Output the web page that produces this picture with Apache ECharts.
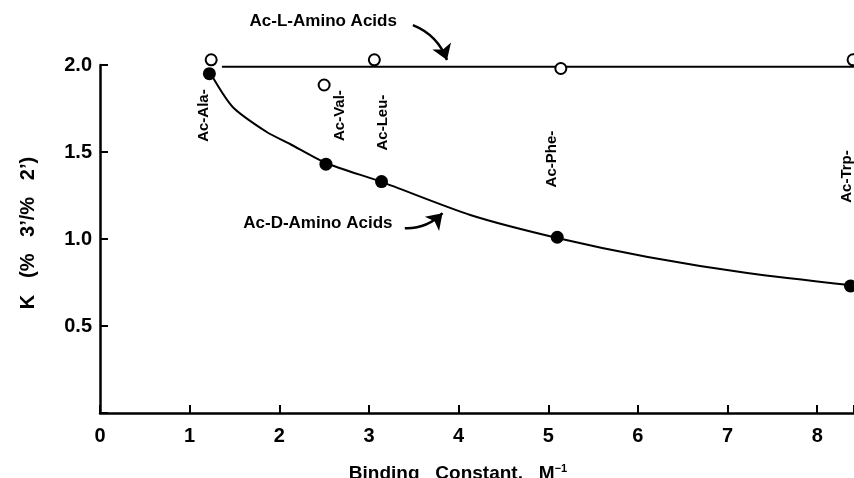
<!DOCTYPE html>
<html lang="en">
<head>
<meta charset="utf-8">
<title>Binding constant vs K</title>
<script src="https://cdn.jsdelivr.net/npm/echarts@6/dist/echarts.min.js"></script>
<style>
  html, body { margin: 0; padding: 0; background: #fff; }
  #chart { width: 854px; height: 478px; }
</style>
</head>
<body>
<div id="chart"></div>
<script>
// values
var acids = ['Ac-Ala-', 'Ac-Val-', 'Ac-Leu-', 'Ac-Phe-', 'Ac-Trp-'];
var dX = [1.22, 2.52, 3.14, 5.10, 8.37];
var dY = [1.95, 1.43, 1.33, 1.01, 0.73];
var lX = [1.24, 2.50, 3.06, 5.14, 8.40];
var lY = [2.03, 1.885, 2.03, 1.98, 2.03];
// fitted curve through the D points
var curveX = [1.23, 1.48, 1.86, 2.12, 2.52, 3.14, 4.13, 5.10, 6.11, 7.22, 8.41];
var curveY = [1.954, 1.759, 1.615, 1.546, 1.437, 1.328, 1.138, 1.006, 0.897, 0.805, 0.733];
// flat line through the L points
var lLineX = [1.36, 8.41];
var lLineY = [1.99, 1.99];
// where the rotated acid names sit (data units)
var acidLabelX = [1.16, 2.68, 3.15, 5.04, 8.33];
var acidLabelY = [1.71, 1.71, 1.67, 1.46, 1.36];
var seriesNames = ['Ac-L-Amino Acids', 'Ac-D-Amino Acids'];
var seriesNameX = [2.49, 2.43];
var seriesNameY = [2.25, 1.09];
// arrow start/end points (data units) and bend
var lArrow = [[3.49, 2.23], [3.87, 2.03]];
var dArrow = [[3.40, 1.063], [3.82, 1.149]];
var arrowBend = [0.22, -0.22];
var yTicks = [0.5, 1.0, 1.5, 2.0];

var FONT = '"Liberation Sans", Arial, Helvetica, sans-serif';

function zip(xs, ys) {
  var out = [];
  for (var i = 0; i < xs.length; i++) out.push([xs[i], ys[i]]);
  return out;
}

var chart = echarts.init(document.getElementById('chart'), null, { renderer: 'canvas' });

var acidLabels = [];
for (var i = 0; i < acids.length; i++) {
  acidLabels.push({ value: [acidLabelX[i], acidLabelY[i]], name: acids[i] });
}
var nameLabels = [];
for (var j = 0; j < seriesNames.length; j++) {
  nameLabels.push({ value: [seriesNameX[j], seriesNameY[j]], name: seriesNames[j] });
}
var arrows = [lArrow, dArrow].map(function (a, k) {
  return { coords: a, lineStyle: { curveness: arrowBend[k] } };
});

chart.setOption({
  backgroundColor: '#fff',
  animation: false,
  grid: [
    { left: 100, right: 0, top: 65, bottom: 65, outerBoundsMode: 'none' },
    // same scale, taller, so the notes above 2.0 can sit on it
    { left: 100, right: 0, top: 13, bottom: 65, outerBoundsMode: 'none' }
  ],
  xAxis: [{
    type: 'value',
    gridIndex: 0,
    min: 0,
    max: 8.41,
    interval: 1,
    name: 'Binding   Constant,   M{sup|−1}',
    nameLocation: 'middle',
    nameGap: 50,
    nameTextStyle: {
      color: '#000', fontFamily: FONT, fontWeight: 'bold', fontSize: 19,
      padding: [0, 38, 0, 0],
      rich: { sup: { fontSize: 11, fontWeight: 'bold', fontFamily: FONT, color: '#000', padding: [0, 0, 10, 0] } }
    },
    axisLine: { lineStyle: { color: '#000', width: 2.5 } },
    axisTick: { inside: true, length: 8, lineStyle: { color: '#000', width: 2 } },
    axisLabel: {
      color: '#000', fontFamily: FONT, fontWeight: 'bold', fontSize: 20, margin: 13,
      formatter: function (v) { return Math.abs(v - Math.round(v)) < 1e-6 ? String(Math.round(v)) : ''; }
    },
    splitLine: { show: false }
  }, {
    type: 'value', gridIndex: 1, min: 0, max: 8.41, show: false
  }],
  yAxis: [{
    type: 'value',
    gridIndex: 0,
    min: 0,
    max: 2.0,
    interval: 0.5,
    name: 'K   (%   3’/%   2’)',
    nameLocation: 'middle',
    nameGap: 62,
    nameTextStyle: { color: '#000', fontFamily: FONT, fontWeight: 'bold', fontSize: 20, padding: [0, 0, 0, 12] },
    axisLine: { show: true, lineStyle: { color: '#000', width: 2.5 } },
    axisTick: { show: true, inside: true, length: 8, lineStyle: { color: '#000', width: 2 } },
    axisLabel: {
      color: '#000', fontFamily: FONT, fontWeight: 'bold', fontSize: 20, margin: 8,
      formatter: function (v) { return yTicks.indexOf(v) >= 0 ? v.toFixed(1) : ''; }
    },
    splitLine: { show: false }
  }, {
    type: 'value', gridIndex: 1, min: 0, max: 2.3, show: false
  }],
  series: [
    {
      name: 'L line',
      type: 'line',
      data: zip(lLineX, lLineY),
      symbol: 'none',
      clip: false,
      lineStyle: { color: '#000', width: 2 }
    },
    {
      name: 'D curve',
      type: 'line',
      data: zip(curveX, curveY),
      smooth: 0.25,
      symbol: 'none',
      clip: false,
      lineStyle: { color: '#000', width: 2 }
    },
    {
      name: 'D points',
      type: 'scatter',
      data: zip(dX, dY),
      symbol: 'circle',
      symbolSize: 13,
      clip: false,
      itemStyle: { color: '#000', opacity: 1 },
      z: 5
    },
    {
      name: 'L points',
      type: 'scatter',
      data: zip(lX, lY),
      symbol: 'circle',
      symbolSize: 11,
      clip: false,
      itemStyle: { color: '#fff', borderColor: '#000', borderWidth: 2, opacity: 1 },
      z: 5
    },
    {
      name: 'acid labels',
      type: 'scatter',
      xAxisIndex: 1,
      yAxisIndex: 1,
      data: acidLabels,
      symbolSize: 0,
      clip: false,
      silent: true,
      itemStyle: { opacity: 1 },
      label: {
        show: true, position: 'inside', rotate: 90,
        formatter: '{b}', color: '#000', fontFamily: FONT, fontWeight: 'bold', fontSize: 15
      }
    },
    {
      name: 'series labels',
      type: 'scatter',
      xAxisIndex: 1,
      yAxisIndex: 1,
      data: nameLabels,
      symbolSize: 0,
      clip: false,
      silent: true,
      itemStyle: { opacity: 1 },
      label: {
        show: true, position: 'inside',
        formatter: '{b}', color: '#000', fontFamily: FONT, fontWeight: 'bold', fontSize: 17
      }
    },
    {
      name: 'arrows',
      type: 'lines',
      coordinateSystem: 'cartesian2d',
      xAxisIndex: 1,
      yAxisIndex: 1,
      silent: true,
      symbol: ['none', 'arrow'],
      symbolSize: [11, 15],
      lineStyle: { color: '#000', width: 2.5, opacity: 1 },
      data: arrows
    }
  ]
});
</script>
</body>
</html>
